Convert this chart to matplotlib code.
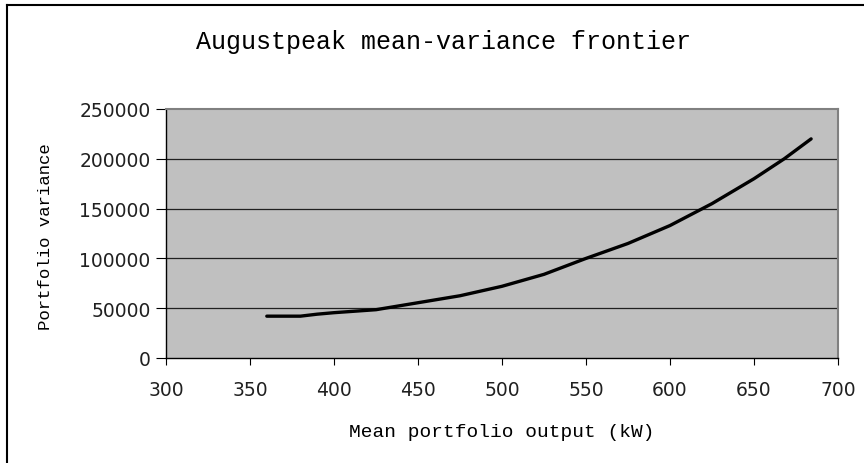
import matplotlib
matplotlib.use("Agg")
import matplotlib.pyplot as plt
from matplotlib.lines import Line2D

mean_output = [360, 380, 390, 400, 425, 450, 475, 500, 525, 550, 575, 600, 625, 650, 668, 684]
variance = [42000, 42000, 44000, 45500, 48500, 55500, 62500, 72000, 84000, 100000,
            115000, 133000, 155000, 180000, 200000, 220000]
x_ticks = [300, 350, 400, 450, 500, 550, 600, 650, 700]
y_ticks = [0, 50000, 100000, 150000, 200000, 250000]

title = "Augustpeak mean-variance frontier"
xlabel = "Mean portfolio output (kW)"
ylabel = "Portfolio variance"

fig = plt.figure(figsize=(8.64, 4.64), dpi=100)
ax = fig.add_axes([166/864, 1-359/464, (838-166)/864, (359-110)/464])
ax.set_facecolor("#C0C0C0")

ax.plot(mean_output, variance, color="black", lw=2.4, solid_capstyle="round", zorder=3)

ax.set_xlim(300, 700)
ax.set_ylim(0, 250000)
ax.set_xticks(x_ticks)
ax.set_yticks(y_ticks)
ax.set_xticklabels([str(v) for v in x_ticks], fontsize=13.5, family="DejaVu Sans",
                   color="#202020")
ax.set_yticklabels([str(v) for v in y_ticks], fontsize=13.5, family="DejaVu Sans",
                   color="#202020")
ax.tick_params(axis="y", direction="out", length=7, width=0.8, pad=4)
ax.tick_params(axis="x", direction="out", length=5, width=0.8, pad=11)

for v in y_ticks[1:-1]:
    ax.axhline(v, color="#202020", lw=0.9, zorder=1)

ax.spines["left"].set_color("black")
ax.spines["bottom"].set_color("black")
ax.spines["top"].set_color("#808080")
ax.spines["right"].set_color("#808080")
for s in ax.spines.values():
    s.set_linewidth(1.0)
ax.spines["top"].set_linewidth(1.5)
ax.spines["right"].set_linewidth(1.5)

fig.text(443/864, 1-42/464, title, ha="center", va="center",
         fontsize=18, family="Liberation Mono")
fig.text(502/864, 1-433/464, xlabel, ha="center", va="center",
         fontsize=14, family="Liberation Mono")
fig.text(46/864, 1-237/464, ylabel, ha="center", va="center", rotation=90,
         fontsize=12.5, family="Liberation Mono")

# outer chart frame (left and top edges visible)
fig.add_artist(Line2D([7/864, 7/864], [0, 1-6/464], transform=fig.transFigure,
                      color="black", lw=1.5))
fig.add_artist(Line2D([7/864, 1], [1-6/464, 1-6/464], transform=fig.transFigure,
                      color="black", lw=1.5))

fig.savefig("out.png", dpi=100)
